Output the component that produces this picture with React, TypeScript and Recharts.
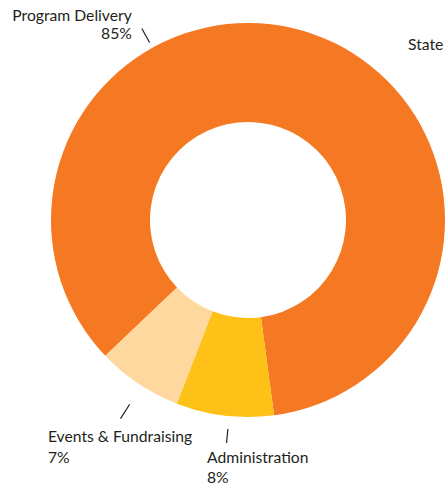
import React from 'react';
import { PieChart, Pie, Cell } from 'recharts';

const categories = ['Program Delivery', 'Administration', 'Events & Fundraising'];
const shares = [85, 8, 7];
const seriesName = 'State';

const COLORS = ['#F57823', '#FDC118', '#FED89E'];
const RAD = Math.PI / 180;
const FONT = 'Lato, "Open Sans", sans-serif';
const INK = '#231F20';
const FONT_SIZE = 15.7;

// tick angle (recharts degrees), tick radii, text anchor and offsets from tick end
const LABEL_LAYOUT = [
	{ angle: 119, r1: 203, r2: 219, anchor: 'end', dx: -10, dy1: -13, dy2: 5 },
	{ angle: -95.5, r1: 210, r2: 224, anchor: 'start', dx: -19.5, dy1: 14.5, dy2: 34.5 },
	{ angle: -122.7, r1: 219, r2: 236, anchor: 'start', dx: -72.6, dy1: 17, dy2: 38 },
];

const data = categories.map((name, i) => ({ name, value: shares[i] }));

const renderLabel = (props: any) => {
	const { cx, cy, index, name, percent } = props;
	const l = LABEL_LAYOUT[index];
	const cos = Math.cos(-l.angle * RAD);
	const sin = Math.sin(-l.angle * RAD);
	const x1 = cx + l.r1 * cos;
	const y1 = cy + l.r1 * sin;
	const x2 = cx + l.r2 * cos;
	const y2 = cy + l.r2 * sin;
	return (
		<g>
			<line x1={x1} y1={y1} x2={x2} y2={y2} stroke={INK} strokeWidth={1.2} />
			<text
				x={x2 + l.dx}
				y={y2 + l.dy1}
				textAnchor={l.anchor}
				dominantBaseline="central"
				fill={INK}
				fontSize={FONT_SIZE}
				fontFamily={FONT}
			>
				{name}
			</text>
			<text
				x={x2 + l.dx}
				y={y2 + l.dy2}
				textAnchor={l.anchor}
				dominantBaseline="central"
				fill={INK}
				fontSize={FONT_SIZE}
				fontFamily={FONT}
			>
				{`${Math.round(percent * 100)}%`}
			</text>
		</g>
	);
};

const App: React.FC = () => {
	return (
		<div style={{ position: 'absolute', left: 0, top: 0, width: 447, height: 488, background: '#fff' }}>
			<PieChart width={447} height={488} margin={{ top: 0, right: 0, bottom: 0, left: 0 }}>
				<Pie
					data={data}
					dataKey="value"
					nameKey="name"
					cx={248}
					cy={220}
					innerRadius={98}
					outerRadius={197}
					startAngle={-136.4}
					endAngle={-496.4}
					stroke="none"
					label={renderLabel}
					labelLine={false}
					isAnimationActive={false}
				>
					{data.map((d, i) => (
						<Cell key={d.name} fill={COLORS[i]} />
					))}
				</Pie>
			</PieChart>
			<div
				style={{
					position: 'absolute',
					left: 408,
					top: 35,
					fontFamily: FONT,
					fontSize: FONT_SIZE,
					color: INK,
					lineHeight: '18px',
				}}
			>
				{seriesName}
			</div>
		</div>
	);
};

export default App;
